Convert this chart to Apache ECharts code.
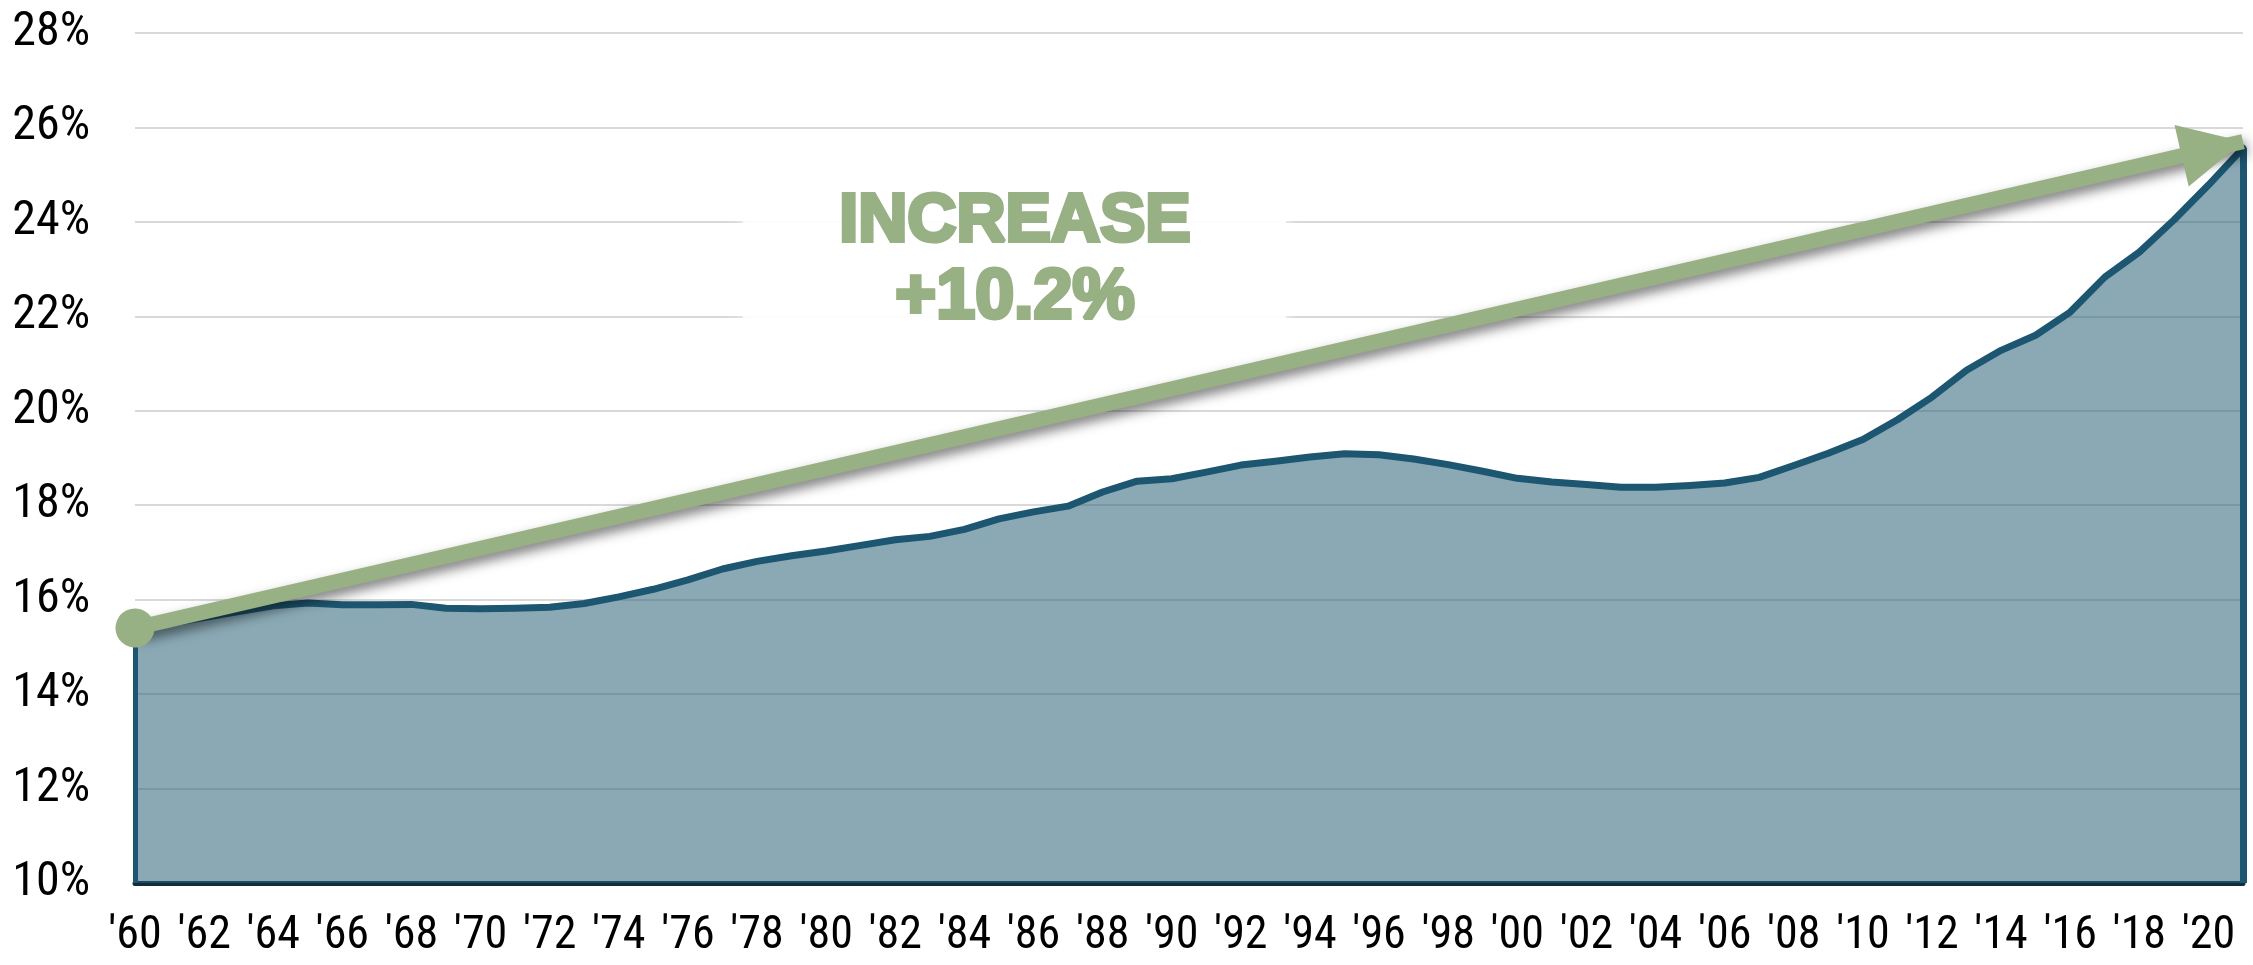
<!DOCTYPE html>
<html>
<head>
<meta charset="utf-8">
<script src="https://cdn.jsdelivr.net/npm/echarts@6/dist/echarts.min.js"></script>
<style>
html,body{margin:0;padding:0;background:#fff;}
#chart{width:2253px;height:965px;}
</style>
</head>
<body>
<div id="chart"></div>
<script>
// ---- data ----
const years = [];
for (let y = 1960; y <= 2021; y++) years.push("'" + String(y).slice(2));
const values = [
  15.40, 15.50, 15.62, 15.75, 15.87, 15.93, 15.89, 15.89, 15.90, 15.82,
  15.81, 15.82, 15.84, 15.92, 16.06, 16.22, 16.42, 16.65, 16.81, 16.93,
  17.03, 17.15, 17.27, 17.34, 17.49, 17.71, 17.86, 17.98, 18.28, 18.51,
  18.56, 18.70, 18.85, 18.93, 19.02, 19.09, 19.07, 18.98, 18.86, 18.72,
  18.57, 18.49, 18.44, 18.38, 18.38, 18.42, 18.47, 18.59, 18.84, 19.10,
  19.39, 19.81, 20.29, 20.86, 21.28, 21.60, 22.09, 22.83, 23.36, 24.04,
  24.78, 25.56
];
const yTicks = [10, 12, 14, 16, 18, 20, 22, 24, 26, 28];
const arrowValues = [15.4, 25.7];
const annotationLines = ['INCREASE', '+10.2%'];

// ---- styles ----
const LINE = '#1d5670';
const GREEN = '#97b084';
const NARROW = "'Liberation Sans Narrow','Arial Narrow','Roboto Condensed','Liberation Sans',sans-serif";
const last = values.length - 1;

const chart = echarts.init(document.getElementById('chart'), null, {renderer: 'canvas'});
chart.setOption({
  animation: false,
  backgroundColor: '#ffffff',
  grid: {left: 135, right: 10, top: 33, bottom: 82, containLabel: false},
  xAxis: {
    type: 'category',
    data: years,
    boundaryGap: false,
    axisLine: {show: true, lineStyle: {color: '#0f2d3a', width: 5}},
    axisTick: {show: false},
    axisLabel: {interval: 1, margin: 30, fontSize: 46, color: '#000', fontFamily: NARROW},
    splitLine: {show: false}
  },
  yAxis: {
    type: 'value',
    min: yTicks[0],
    max: yTicks[yTicks.length - 1],
    interval: yTicks[1] - yTicks[0],
    axisLine: {show: false},
    axisTick: {show: false},
    axisLabel: {formatter: '{value}%', margin: 45, fontSize: 48, color: '#000', fontFamily: NARROW},
    splitLine: {show: true, lineStyle: {color: '#d9d9d9', width: 2}}
  },
  series: [{
    type: 'line',
    data: values,
    symbol: 'none',
    smooth: false,
    lineStyle: {color: LINE, width: 7, join: 'round', cap: 'round'},
    areaStyle: {color: 'rgb(42,98,120)', opacity: 0.55},
    z: 2,
    markLine: {
      silent: true,
      animation: false,
      symbol: ['none', 'none'],
      label: {show: false},
      emphasis: {disabled: true},
      data: [
        [{coord: [0, yTicks[0]], lineStyle: {color: LINE, width: 5, type: 'solid'}}, {coord: [0, values[0]]}],
        [{coord: [last, yTicks[0]], lineStyle: {color: LINE, width: 7, type: 'solid'}}, {coord: [last, values[last]]}],
        [
          {coord: [0, arrowValues[0]], symbol: 'circle', symbolSize: 39,
           lineStyle: {color: GREEN, width: 15, type: 'solid', shadowColor: 'rgba(0,0,0,0.5)', shadowBlur: 12, shadowOffsetX: 3, shadowOffsetY: 6}},
          {coord: [last, arrowValues[1]], symbol: 'triangle', symbolSize: 63, symbolOffset: [0, '50%']}
        ]
      ]
    }
  }],
  graphic: [
    {type: 'rect', left: 743, top: 165, z: 50, silent: true,
     shape: {width: 543, height: 180},
     style: {fill: 'rgba(255,255,255,0.82)', shadowBlur: 12, shadowColor: 'rgba(255,255,255,0.9)'}},
    {type: 'text', x: 1015, y: 222, z: 60, silent: true,
     style: {text: annotationLines[0], fill: GREEN, font: "bold 68px 'Liberation Sans', Arial, sans-serif",
             align: 'center', verticalAlign: 'middle', stroke: GREEN, lineWidth: 4, lineJoin: 'miter'}},
    {type: 'text', x: 1015, y: 299, z: 60, silent: true,
     style: {text: annotationLines[1], fill: GREEN, font: "bold 70px 'Liberation Sans', Arial, sans-serif",
             align: 'center', verticalAlign: 'middle', stroke: GREEN, lineWidth: 4, lineJoin: 'miter'}}
  ]
});
</script>
</body>
</html>
